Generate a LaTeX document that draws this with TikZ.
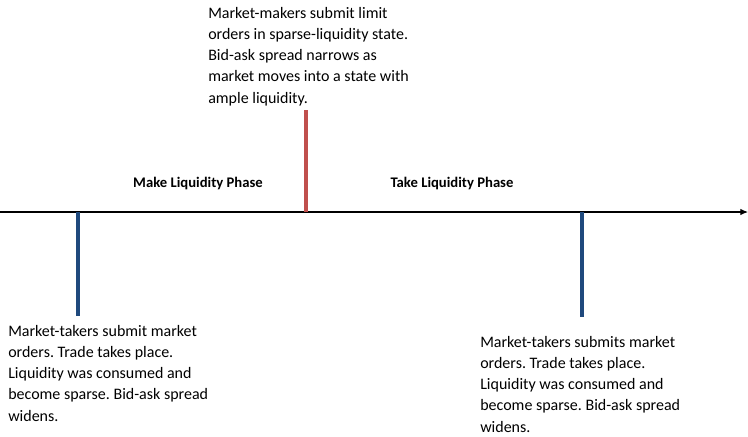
\documentclass[tikz,border=0pt]{standalone}
\usepackage{fontspec}
\setmainfont{Carlito}
\frenchspacing
\usetikzlibrary{arrows.meta}
\definecolor{barred}{HTML}{C0504D}
\definecolor{barblue}{HTML}{1F497D}
\tikzset{
	note/.style={inner sep=0pt, anchor=north west, align=left, font=\fontsize{12}{15.9}\selectfont},
	phase/.style={inner sep=0pt, font=\fontsize{11}{13}\selectfont\bfseries},
	bar/.style={line width=2.3pt}
}
\begin{document}
\begin{tikzpicture}[x=0.75pt, y=-0.75pt]
	\useasboundingbox (0,0) rectangle (748,436);
	\coordinate (s) at (0,212);
	\coordinate (e) at (748,212);
	\draw[line width=0.8pt, -{Latex[length=2mm, width=1.7mm]}] (s) -- (e);
	\coordinate (m) at (306,212);
	\coordinate (mt) at (306,110);
	\draw[bar, barred] (m) -- (mt);
	\coordinate (l) at (78,212);
	\coordinate (lb) at (78,316);
	\draw[bar, barblue] (l) -- (lb);
	\coordinate (r) at (582,212);
	\coordinate (rb) at (582,317);
	\draw[bar, barblue] (r) -- (rb);
	\node (mk) [phase] at (198,184) {Make Liquidity Phase};
	\node (tk) [phase] at (452,184) {Take Liquidity Phase};
	\node (mn) [note] at (208,7) {Market-makers submit limit\\orders in sparse-liquidity state.\\Bid-ask spread narrows as\\market moves into a state with\\ample liquidity.};
	\node (ln) [note] at (8,325) {Market-takers submit market\\orders. Trade takes place.\\Liquidity was consumed and\\become sparse. Bid-ask spread\\widens.};
	\node (rn) [note] at (480,336) {Market-takers submits market\\orders. Trade takes place.\\Liquidity was consumed and\\become sparse. Bid-ask spread\\widens.};
\end{tikzpicture}
\end{document}
